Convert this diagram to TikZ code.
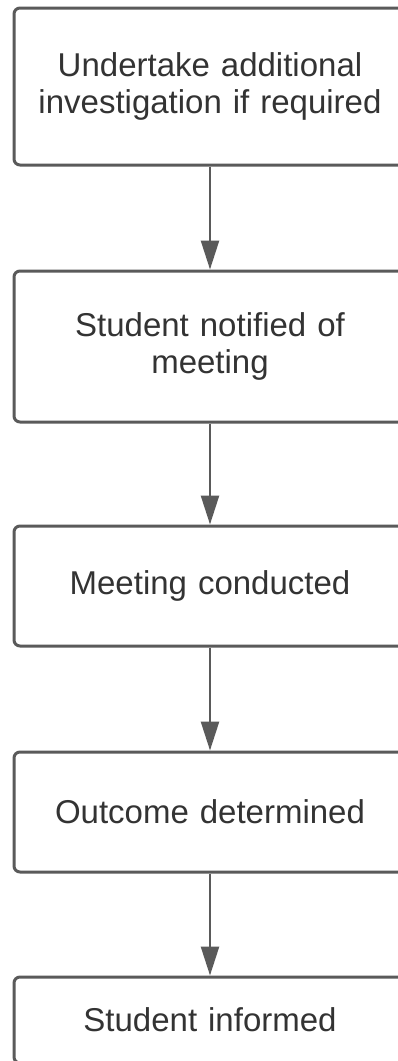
\documentclass[tikz,border=0pt]{standalone}
\usepackage{fontspec}
\setmainfont{Liberation Sans}
\usetikzlibrary{arrows.meta}
\definecolor{edgegray}{HTML}{5A5A5A}
\definecolor{txtgray}{HTML}{333333}
\begin{document}
\begin{tikzpicture}[x=1pt,y=-1pt,
  stepbox/.style={draw=edgegray, line width=3pt, rounded corners=6pt, fill=white,
    minimum width=392pt, text width=380pt, align=center,
    font=\fontsize{33}{37}\selectfont, text=txtgray, inner sep=0pt},
  flow/.style={draw=edgegray, line width=2.5pt, -{Triangle[length=29pt,width=18pt]}}]
\useasboundingbox (0,0) rectangle (398,1061);
\clip (0,0) rectangle (398,1061);
\fill[white] (0,0) rectangle (398,1061);
\node[stepbox, minimum height=157pt] (a) at (210,86.5) {Undertake additional\\investigation if required};
\node[stepbox, minimum height=151pt] (b) at (210,346.5) {Student notified of\\meeting};
\node[stepbox, minimum height=120pt] (c) at (210,586) {Meeting conducted};
\node[stepbox, minimum height=120pt] (d) at (210,812) {Outcome determined};
\node[stepbox, minimum height=86pt] (e) at (210,1020) {Student informed};
\draw[flow] (a) -- (b);
\draw[flow] (b) -- (c);
\draw[flow] (c) -- (d);
\draw[flow] (d) -- (e);
\end{tikzpicture}
\end{document}
